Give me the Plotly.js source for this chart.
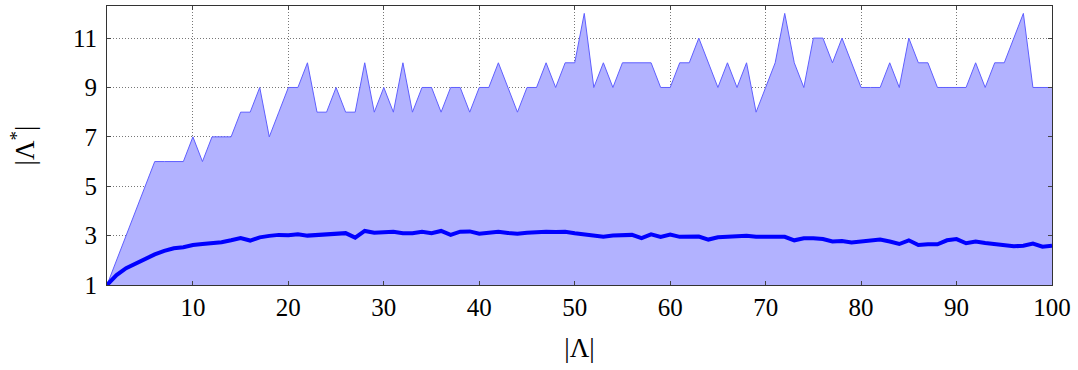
<!DOCTYPE html>
<html>
<head>
<meta charset="utf-8">
<script src="https://cdn.plot.ly/plotly-3.0.1.min.js"></script>
<style>html,body{margin:0;padding:0;background:#fff;}#chart{width:1078px;height:370px;}</style>
</head>
<body>
<div id="chart"></div>
<script>
var sizes = [];
for (var i = 1; i <= 100; i++) sizes.push(i);

var maxSize = [1,2,3,4,5,6,6,6,6,7, 6,7,7,7,8,8,9,7,8,9,
               9,10,8,8,9,8,8,10,8,9, 8,10,8,9,9,8,9,9,8,9,
               9,10,9,8,9,9,10,9,10,10, 12,9,10,9,10,10,10,10,9,9,
               10,10,11,10,9,10,9,10,8,9, 10,12,10,9,11,11,10,11,10,9,
               9,9,10,9,11,10,10,9,9,9, 9,10,9,10,10,11,12,9,9,9];

var meanSize = [1,1.4,1.68,1.88,2.05,2.24,2.38,2.49,2.53,2.62,
                2.66,2.68,2.73,2.81,2.9,2.8,2.93,2.99,3.03,3.02,
                3.05,3.0,3.03,3.05,3.07,3.1,2.92,3.19,3.12,3.15,
                3.16,3.1,3.1,3.16,3.1,3.19,3.03,3.16,3.17,3.08,
                3.12,3.16,3.11,3.08,3.12,3.16,3.16,3.15,3.16,3.1,
                3.05,3.03,2.95,3.0,3.0,3.03,2.9,3.05,2.95,3.04,
                2.95,2.95,2.96,2.84,2.93,2.95,2.96,2.99,2.95,2.95,
                2.95,2.95,2.81,2.89,2.89,2.86,2.76,2.78,2.72,2.75,
                2.8,2.84,2.76,2.66,2.81,2.62,2.65,2.65,2.81,2.86,
                2.69,2.76,2.7,2.66,2.62,2.57,2.59,2.68,2.55,2.59];

var xTicks = [10,20,30,40,50,60,70,80,90,100];
var yTicks = [1,3,5,7,9,11];

var tickFont = {family: '"Liberation Serif", "DejaVu Serif", serif', size: 25, color: '#000'};
var titleFont = {family: '"Liberation Serif", "DejaVu Serif", serif', size: 27, color: '#000'};

var traces = [
  {x: sizes, y: maxSize, type: 'scatter', mode: 'lines', fill: 'tozeroy',
   fillcolor: 'rgb(178,178,255)', line: {color: 'rgb(95,95,255)', width: 1}, hoverinfo: 'skip'},
  {x: sizes, y: meanSize, type: 'scatter', mode: 'lines',
   line: {color: 'rgb(0,0,255)', width: 4}, hoverinfo: 'skip'}
];

var axisCommon = {
  showline: true, linecolor: '#333', linewidth: 1, mirror: 'allticks',
  ticks: 'inside', ticklen: 4, tickcolor: '#444', tickwidth: 1,
  showgrid: true, gridcolor: '#777', griddash: '1px,2px', gridwidth: 1,
  zeroline: false, tickfont: tickFont
};

var layout = {
  width: 1078, height: 370,
  margin: {l: 107, r: 26, t: 6, b: 85},
  paper_bgcolor: '#fff', plot_bgcolor: '#fff',
  showlegend: false,
  xaxis: Object.assign({}, axisCommon, {
    range: [1, 100], tickmode: 'array', tickvals: xTicks, ticktext: xTicks.map(String),
    title: {text: '|Λ|', font: titleFont, standoff: 18}
  }),
  yaxis: Object.assign({}, axisCommon, {
    range: [1, 12.3], tickmode: 'array', tickvals: yTicks, ticktext: yTicks.map(String),
    ticklabelstandoff: 4,
    title: {text: '|Λ<sup>*</sup>|', font: titleFont, standoff: 30}
  })
};

Plotly.newPlot('chart', traces, layout, {displayModeBar: false, staticPlot: true});
</script>
</body>
</html>
